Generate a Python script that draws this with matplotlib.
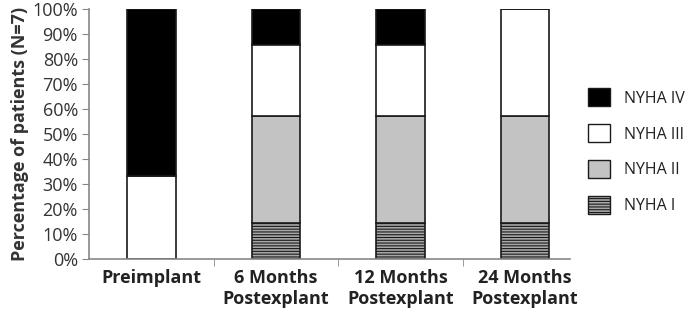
import numpy as np
import matplotlib.pyplot as plt
from matplotlib.patches import Patch

plt.rcParams["font.family"] = ["Open Sans", "DejaVu Sans"]
plt.rcParams["hatch.linewidth"] = 0.8
plt.rcParams["hatch.color"] = "#6e6e6e"

categories = ["Preimplant", "6 Months\nPostexplant", "12 Months\nPostexplant", "24 Months\nPostexplant"]
nyha_1 = [0.0, 14.3, 14.3, 14.3]
nyha_2 = [0.0, 42.9, 42.9, 42.9]
nyha_3 = [33.3, 28.6, 28.6, 42.9]
nyha_4 = [66.7, 14.3, 14.2, 0.0]

series = [
    ("NYHA I", nyha_1, "#a8a8a8", "------"),
    ("NYHA II", nyha_2, "#c3c3c3", None),
    ("NYHA III", nyha_3, "white", None),
    ("NYHA IV", nyha_4, "black", None),
]

fig = plt.figure(figsize=(7.0, 3.22), dpi=100)
ax = fig.add_axes([89 / 700, 63 / 322, 481 / 700, 250 / 322])

x = np.arange(len(categories))
bottom = np.zeros(len(categories))
for name, vals, col, hatch in series:
    vals = np.array(vals)
    ax.bar(x, vals, 0.39, bottom=bottom, color=col, edgecolor="#1a1a1a",
           linewidth=1.2, hatch=hatch, zorder=2)
    bottom += vals

ax.set_xlim(-0.5, 3.36)
ax.set_ylim(0, 100)
ax.set_yticks(np.arange(0, 101, 10))
ax.set_yticklabels([f"{v}%" for v in range(0, 101, 10)], fontsize=13, color="#333333")
ax.set_xticks(x)
ax.set_xticklabels(categories, fontsize=13, fontweight="bold", color="#222222",
                   linespacing=1.25)
ax.set_xticks(np.arange(0.5, 3.0, 1.0), minor=True)
ax.tick_params(axis="x", which="major", length=0, pad=7)
ax.tick_params(axis="x", which="minor", length=5, color="#888888", direction="out")
ax.tick_params(axis="y", length=5, color="#888888", direction="out", pad=3)
for s in ["top", "right"]:
    ax.spines[s].set_visible(False)
for s in ["left", "bottom"]:
    ax.spines[s].set_color("#888888")
    ax.spines[s].set_linewidth(1.2)

ax.set_ylabel("Percentage of patients (N=7)", fontsize=13, fontweight="bold",
              color="#333333", labelpad=2)

handles = [Patch(facecolor=col, edgecolor="#1a1a1a", hatch=h, label=n)
           for n, v, col, h in reversed(series)]
fig.legend(handles=handles, loc="center left", bbox_to_anchor=(0.82, 0.53),
           frameon=False, fontsize=11.5, labelspacing=1.1, handlelength=1.35,
           handleheight=1.35, handletextpad=0.9, labelcolor="#222222")

fig.savefig("out.png", dpi=100)
